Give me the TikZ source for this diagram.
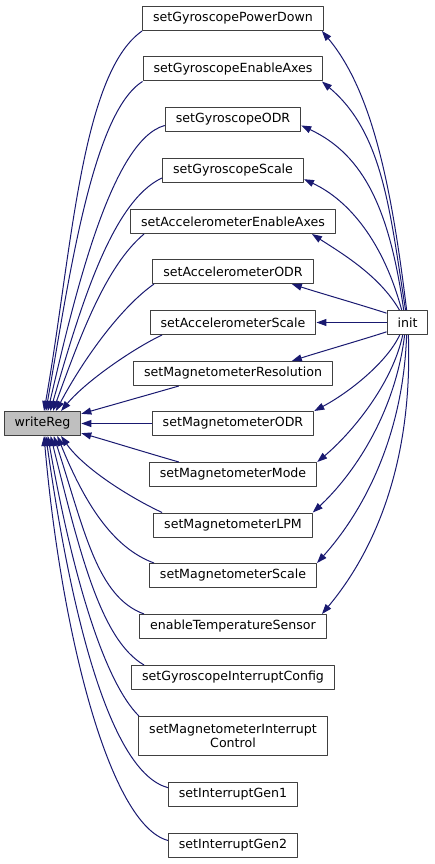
\documentclass[tikz,border=0pt]{standalone}
\usepackage{fontspec}
\setmainfont{DejaVu Sans}
\usetikzlibrary{arrows.meta}
\definecolor{edgeblue}{HTML}{191970}
\definecolor{boxline}{HTML}{404040}
\definecolor{curfill}{HTML}{BFBFBF}
\begin{document}
\begin{tikzpicture}[x=1pt, y=1pt, >={Triangle[length=10pt,width=7pt]}, line join=round,
		font=\fontsize{12.6}{14.5}\selectfont,
		fn/.style={draw=boxline, line width=1pt, fill=white, minimum height=24pt, inner xsep=10.5pt, inner ysep=0pt},
		call/.style={->, draw=edgeblue, line width=1pt}]
	\useasboundingbox (0,0) rectangle (435,-864);
	% functions
	\node[fn, fill=curfill] (wr) at (42.5,-423.5) {writeReg};
	\node[fn] (init) at (407.5,-322.5) {init};
	\node[fn] (pd) at (233,-18.5) {setGyroscopePowerDown};
	\node[fn] (gea) at (233,-69) {setGyroscopeEnableAxes};
	\node[fn] (godr) at (233,-119.5) {setGyroscopeODR};
	\node[fn] (gsc) at (233,-170.5) {setGyroscopeScale};
	\node[fn] (aea) at (233,-221.5) {setAccelerometerEnableAxes};
	\node[fn] (aodr) at (233,-271.5) {setAccelerometerODR};
	\node[fn] (asc) at (233,-322.5) {setAccelerometerScale};
	\node[fn] (mres) at (233,-373.5) {setMagnetometerResolution};
	\node[fn] (modr) at (233,-423.5) {setMagnetometerODR};
	\node[fn] (mmode) at (233,-474.5) {setMagnetometerMode};
	\node[fn] (mlpm) at (233,-525) {setMagnetometerLPM};
	\node[fn] (msc) at (233,-575.5) {setMagnetometerScale};
	\node[fn] (etemp) at (233,-626.5) {enableTemperatureSensor};
	\node[fn] (gic) at (233,-677.5) {setGyroscopeInterruptConfig};
	\node[fn, minimum height=39pt, align=center] (mic) at (233,-736) {setMagnetometerInterrupt\\Control};
	\node[fn] (ig1) at (233,-794.5) {setInterruptGen1};
	\node[fn] (ig2) at (233,-845) {setInterruptGen2};
	% calls of writeReg
	\foreach \n/\s/\o/\l/\i/\m/\t in {pd/south west/215/75/80/160/83, gea/south west/212/60/80/130/75,
			godr/185/195/55/77/120/67, gsc/186/205/55/74/110/58, aea/188/220/50/70/80/50,
			aodr/189/215/40/62/60/43, asc/190/205/30/50/40/34, mres/193/196/30/16/30/14,
			modr/west/180/20/0/20/east, mmode/167/164/30/-16/30/-14, mlpm/170/155/35/-55/40/-34,
			msc/171/160/45/-68/70/-40, etemp/172/160/50/-72/100/-48, gic/172/150/50/-76/120/-57,
			mic/168/135/50/-80/140/-67, ig1/174/165/60/-82/180/-75, ig2/176/165/60/-85/200/-83}
		\draw[call] (\n.\s) .. controls +(\o:\l) and +(\i:\m) .. (wr.\t);
	% calls from init
	\foreach \n/\s/\o/\l/\i/\m/\t in {pd/94/97/120/-50/80/-8, gea/99/99/100/-40/80/-8,
			godr/107/98/100/-25/70/-5, gsc/115/105/70/-25/50/-7, aea/123/120/40/-33/35/-9,
			aodr/156/162/25/-18/25/-12, asc/west/180/20/0/20/east, mres/204/198/25/18/25/12,
			modr/238/245/30/28/40/north east, mmode/249/258/50/40/45/north east,
			mlpm/257/263/80/43/55/north east, msc/266/268/110/48/60/north east,
			etemp/274/272/140/50/70/8}
		\draw[call] (init.\s) .. controls +(\o:\l) and +(\i:\m) .. (\n.\t);
\end{tikzpicture}
\end{document}
